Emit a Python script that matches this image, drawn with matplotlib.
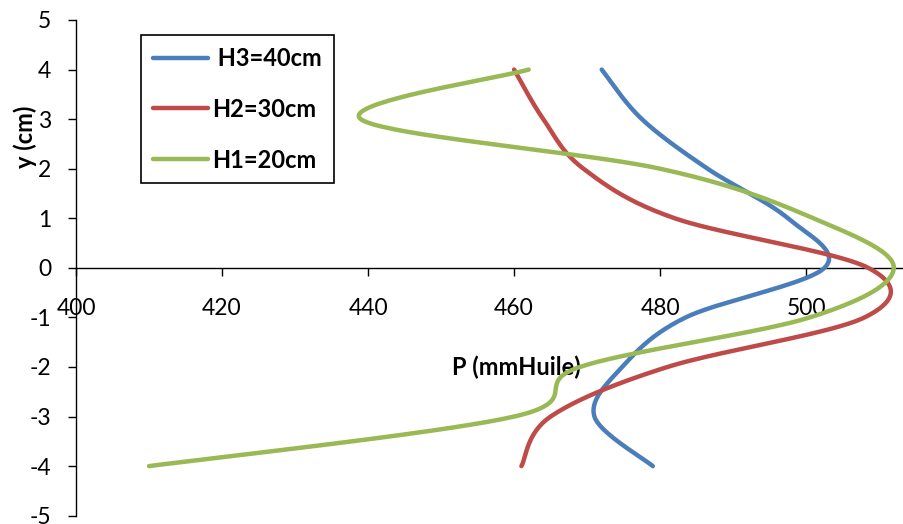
import numpy as np
import matplotlib
matplotlib.use("Agg")
import matplotlib.pyplot as plt

plt.rcParams['font.family'] = ['Lato', 'DejaVu Sans']
plt.rcParams['axes.unicode_minus'] = False

# pressure profiles, one value per height level
y_levels = [4, 3, 2, 1, 0, -1, -2, -3, -4]
p_h3 = [472, 477.5, 486.5, 497.5, 502.5, 483.5, 474.8, 471, 479]
p_h2 = [460, 464, 469.5, 482, 508.5, 508, 481, 465, 461]
p_h1 = [462, 439, 480, 501, 512, 500.5, 469, 460, 410]

labels = [" H3=40cm", "H2=30cm", "H1=20cm"]
colors = ["#4A7EBB", "#BE4B48", "#98B954"]


def smooth(xs, ys, n=40):
    # cubic bezier through the points, Excel-like "smoothed line"
    pts = np.column_stack([xs, ys]).astype(float)
    ext = np.vstack([pts[0], pts, pts[-1]])
    out = []
    t = np.linspace(0, 1, n)[:, None]
    for i in range(len(pts) - 1):
        p0, p3 = ext[i + 1], ext[i + 2]
        c1 = p0 + (ext[i + 2] - ext[i]) / 6
        c2 = p3 - (ext[i + 3] - ext[i + 1]) / 6
        seg = ((1 - t) ** 3) * p0 + 3 * ((1 - t) ** 2) * t * c1 \
            + 3 * (1 - t) * t ** 2 * c2 + t ** 3 * p3
        out.append(seg if i == 0 else seg[1:])
    seg = np.vstack(out)
    return seg[:, 0], seg[:, 1]


fig = plt.figure(figsize=(9.04, 5.24), dpi=100)
ax = fig.add_axes([76 / 904, 8.3 / 524, 828 / 904, 495.7 / 524])

for p, lab, col in zip([p_h3, p_h2, p_h1], labels, colors):
    sx, sy = smooth(p, y_levels)
    ax.plot(sx, sy, color=col, lw=3.2, label=lab,
            solid_capstyle='round', clip_on=False)

ax.set_xlim(400, 513.4)
ax.set_ylim(-5, 5)
ax.set_xticks(range(400, 520, 20))
ax.set_yticks(range(-5, 6))

ax.spines['top'].set_visible(False)
ax.spines['right'].set_visible(False)
ax.spines['bottom'].set_position(('data', 0))
for s in ('left', 'bottom'):
    ax.spines[s].set_linewidth(1.0)
    ax.spines[s].set_zorder(1)

ax.tick_params(axis='x', direction='out', length=5.8, width=1.0,
               pad=16, labelsize=16.5)
ax.tick_params(axis='y', direction='out', length=5.8, width=1.0,
               pad=12, labelsize=16.5)

ax.set_xlabel("P (mmHuile)", fontsize=17, fontweight='bold')
ax.xaxis.set_label_coords((516 - 76) / 828, (515.7 - 356) / 495.7)
ax.set_ylabel("y (cm)", fontsize=17, fontweight='bold', va='center')
ax.yaxis.set_label_coords((25 - 76) / 828, (515.7 - 137) / 495.7)

leg = ax.legend(loc='upper left', bbox_to_anchor=(140.7 / 904, 1 - 35 / 524),
                bbox_transform=fig.transFigure,
                prop=dict(family='Lato', weight='bold', size=17),
                fancybox=False, edgecolor='black', framealpha=1,
                borderpad=0.5, labelspacing=1.18, handlelength=2.33,
                handletextpad=0.2, borderaxespad=0)
leg.get_frame().set_linewidth(1.2)

fig.savefig("out.png", dpi=100)
